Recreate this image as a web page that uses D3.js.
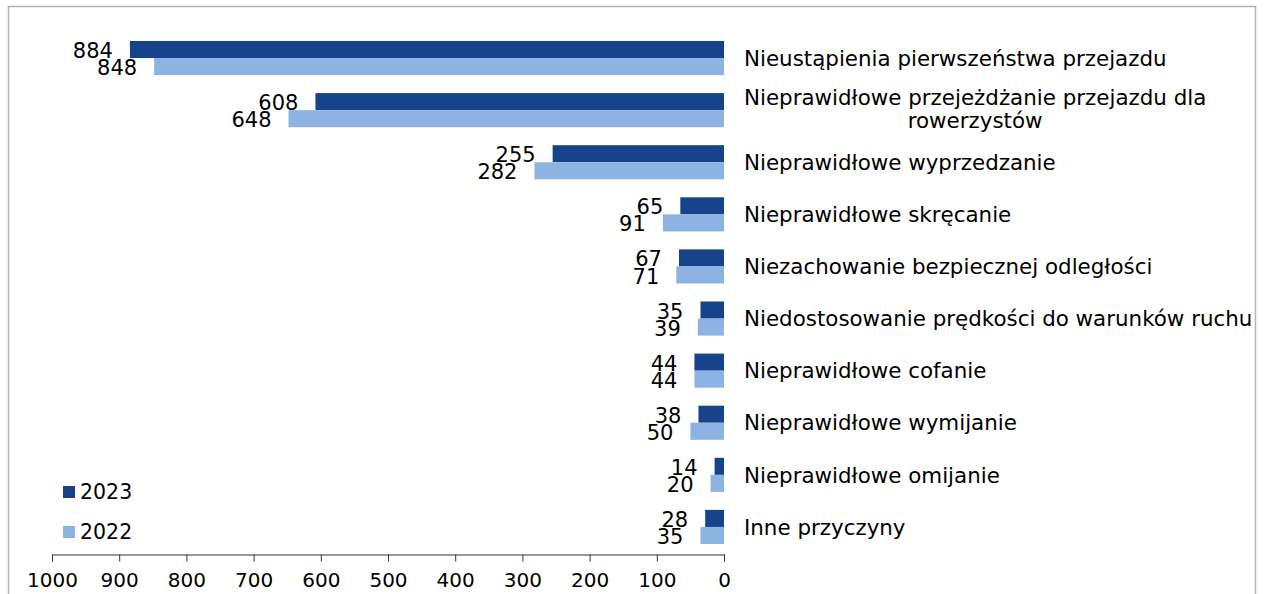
<!DOCTYPE html>
<html>
<head>
<meta charset="utf-8">
<script src="https://cdn.jsdelivr.net/npm/d3@7"></script>
<style>
  html, body { margin: 0; padding: 0; background: #fff; }
  svg { display: block; font-family: "DejaVu Sans", Verdana, sans-serif; }
</style>
</head>
<body>
<svg id="chart" width="1265" height="594"></svg>
<script>
const categories = [
  "Nieustąpienia pierwszeństwa przejazdu",
  "Nieprawidłowe przejeżdżanie przejazdu dla\nrowerzystów",
  "Nieprawidłowe wyprzedzanie",
  "Nieprawidłowe skręcanie",
  "Niezachowanie bezpiecznej odległości",
  "Niedostosowanie prędkości do warunków ruchu",
  "Nieprawidłowe cofanie",
  "Nieprawidłowe wymijanie",
  "Nieprawidłowe omijanie",
  "Inne przyczyny"
];
const values2023 = [884, 608, 255, 65, 67, 35, 44, 38, 14, 28];
const values2022 = [848, 648, 282, 91, 71, 39, 44, 50, 20, 35];
const seriesNames = ["2023", "2022"];
const seriesColors = ["#17438c", "#8db3e2"];
const tickValues = [1000, 900, 800, 700, 600, 500, 400, 300, 200, 100, 0];

const svg = d3.select("#chart");
const CAT_FONT = 21.4;
const VAL_FONT = 21;
const TICK_FONT = 20;
const LEG_FONT = 20.5;

// frame
svg.append("rect")
  .attr("x", 8.5).attr("y", 6.5)
  .attr("width", 1247).attr("height", 600)
  .attr("fill", "none").attr("stroke", "#b3b3b3").attr("stroke-width", 1.5);

const x = d3.scaleLinear().domain([0, 1000]).range([724, 52]);
const y = d3.scaleBand().domain(d3.range(categories.length))
  .range([32, 553]).paddingInner(0.345).paddingOuter(0.1725);
const ySub = d3.scaleBand().domain(seriesNames).range([0, y.bandwidth()]);

const series = [values2023, values2022];

const groups = svg.append("g").selectAll("g")
  .data(categories.map((c, i) => ({ c, i })))
  .join("g")
  .attr("transform", d => `translate(0,${y(d.i)})`);

seriesNames.forEach((name, si) => {
  groups.append("rect")
    .attr("x", d => x(series[si][d.i]))
    .attr("y", ySub(name))
    .attr("width", d => x(0) - x(series[si][d.i]))
    .attr("height", ySub.bandwidth())
    .attr("fill", seriesColors[si]);
  groups.append("text")
    .attr("x", d => x(series[si][d.i]) - 17)
    .attr("y", ySub(name) + ySub.bandwidth())
    .attr("text-anchor", "end")
    .attr("font-size", VAL_FONT)
    .attr("fill", "#000")
    .text(d => series[si][d.i]);
});

// category labels
groups.each(function(d) {
  const g = d3.select(this);
  const lines = d.c.split("\n");
  const cy = y.bandwidth() / 2;
  const lh = 22.5;
  const t = g.append("text")
    .attr("font-size", CAT_FONT)
    .attr("fill", "#000");
  if (lines.length === 1) {
    t.attr("x", 744).attr("y", cy).attr("dy", "0.36em").text(lines[0]);
  } else {
    const tmp = g.append("text").attr("font-size", CAT_FONT).text(lines[0]);
    const w = tmp.node().getComputedTextLength();
    tmp.remove();
    const cx = 744 + w / 2;
    lines.forEach((ln, k) => {
      t.append("tspan")
        .attr("x", cx)
        .attr("text-anchor", "middle")
        .attr("y", cy - 1.5 + (k - (lines.length - 1) / 2) * lh)
        .attr("dy", "0.36em")
        .text(ln);
    });
  }
});

// axis
const axis = d3.axisBottom(x).tickValues(tickValues).tickSize(7).tickPadding(11).tickFormat(d3.format("d"));
const ax = svg.append("g").attr("transform", "translate(0,554.5)").call(axis);
ax.select(".domain").attr("stroke", "#333");
ax.selectAll(".tick line").attr("stroke", "#333");
ax.selectAll(".tick text").attr("font-size", TICK_FONT).attr("font-family", "DejaVu Sans, Verdana, sans-serif").attr("fill", "#000");

// legend
const legend = svg.append("g");
const legendY = [492, 532];
seriesNames.forEach((name, si) => {
  legend.append("rect")
    .attr("x", 63).attr("y", legendY[si] - 6)
    .attr("width", 12).attr("height", 12)
    .attr("fill", seriesColors[si]);
  legend.append("text")
    .attr("x", 80).attr("y", legendY[si]).attr("dy", "0.36em")
    .attr("font-size", LEG_FONT).attr("fill", "#000")
    .text(name);
});
</script>
</body>
</html>
